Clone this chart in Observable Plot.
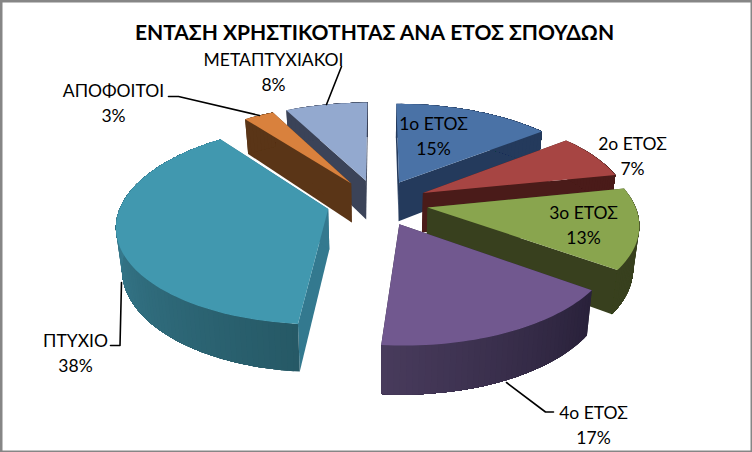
<!DOCTYPE html>
<html lang="el">
<head>
<meta charset="utf-8">
<style>html,body{margin:0;padding:0;background:#fff;overflow:hidden}svg{display:block}</style>
<script src="https://cdn.jsdelivr.net/npm/d3@7"></script>
<script src="https://cdn.jsdelivr.net/npm/@observablehq/plot@0.6"></script>
</head>
<body>
<div id="chart"></div>
<script>
const chartTitle = "ΕΝΤΑΣΗ ΧΡΗΣΤΙΚΟΤΗΤΑΣ ΑΝΑ ΕΤΟΣ ΣΠΟΥΔΩΝ";
const categories = ["1ο ΕΤΟΣ","2ο ΕΤΟΣ","3ο ΕΤΟΣ","4ο ΕΤΟΣ","ΠΤΥΧΙΟ","ΑΠΟΦΟΙΤΟΙ","ΜΕΤΑΠΤΥΧΙΑΚΟΙ"];
const shares = [14.5, 7.4, 13.2, 16.5, 38.4, 2.8, 7.6];

const topColors  = ["#4a72a6","#a74543","#89a54e","#71588f","#4198af","#d9813d","#93a9cf"];
const wallColors = ["#243a5c","#4a1b19","#38401e","#2b2339","#33798f","#5a3517","#3b4358"];
const arcFrom    = ["#243a5c","#4a1b19","#38401e","#483b5c","#4392aa","#5a3517","#3b4358"];
const arcTo      = ["#243a5c","#4a1b19","#38401e","#29213a","#265966","#5a3517","#3b4358"];

// pixel layout of the 752x452 frame
const W = 752, H = 452, CX = 377, CY = 202, A = 206.5, B = 96;
const K = 0.15, EXPLODE_U = 0.246, EXPLODE_V = 0.24, DEPTH = 0.417, BOTTOM_X = 0.977;
const ux = p => (p - CX) / A, uy = p => (CY - p) / B;

// perspective projection of the disc plane
function proj(u, v, bottom) {
  const s = 1 / (1 + K * v);
  return {x: u * s * (bottom ? BOTTOM_X : 1), y: v * s - (bottom ? DEPTH * s : 0)};
}

const total = d3.sum(shares);
const slices = [];
let acc = 0;
shares.forEach((v, i) => {
  const a0 = acc / total * 2 * Math.PI;
  acc += v;
  const a1 = acc / total * 2 * Math.PI;
  const m = (a0 + a1) / 2;
  slices.push({i, a0, a1, ou: EXPLODE_U * Math.sin(m), ov: EXPLODE_V * Math.cos(m)});
});

function rim(s, a, bottom) { return proj(s.ou + Math.sin(a), s.ov + Math.cos(a), bottom); }
function apex(s, bottom) { return proj(s.ou, s.ov, bottom); }
const poly = (pts, fill) => Plot.line(pts.concat(pts[0]), {x: "x", y: "y", fill, stroke: "none", curve: "linear"});

const marks = [];
// painter's order: farthest slice first
[...slices].sort((a, b) => b.ov - a.ov).forEach(s => {
  const n = Math.max(8, Math.round((s.a1 - s.a0) * 40));
  const angle = k => s.a0 + (s.a1 - s.a0) * k / n;
  marks.push(poly([apex(s), rim(s, s.a0), rim(s, s.a0, true), apex(s, true)], wallColors[s.i]));
  marks.push(poly([apex(s), rim(s, s.a1), rim(s, s.a1, true), apex(s, true)], wallColors[s.i]));
  const shade = d3.interpolateRgb(arcTo[s.i], arcFrom[s.i]);
  // each band reaches to the far end of the wall, so later bands overpaint it without seams
  for (let k = 0; k < n; k++) {
    const upper = [], lower = [];
    for (let j = k; j <= n; j++) { upper.push(rim(s, angle(j))); lower.unshift(rim(s, angle(j), true)); }
    marks.push(poly(upper.concat(lower), shade(k / (n - 1))));
  }
  const top = [apex(s)];
  for (let k = 0; k <= n; k++) top.push(rim(s, angle(k)));
  marks.push(poly(top, topColors[s.i]));
});

// leader lines
const leaders = [
  [[506,382],[545,411.5],[553,411.5]],
  [[121,282],[119.5,345],[110,345]],
  [[168,96],[178,96],[259,115]],
  [[341,66],[326,104]]
];
leaders.forEach(l => marks.push(Plot.line(l.map(([x, y]) => ({x: ux(x), y: uy(y)})), {x: "x", y: "y", stroke: "#000", strokeWidth: 1.6})));

// labels
const labelPos = [[433,134],[632,154],[583,223],[593,423],[75,351],[113,101],[273,70]];
const labels = categories.map((c, i) => ({x: ux(labelPos[i][0]), y: uy(labelPos[i][1]), text: c + "\n" + Math.round(shares[i]) + "%"}));
marks.push(Plot.text(labels, {x: "x", y: "y", text: "text", fontSize: 17.5, lineHeight: 1.46, fill: "#000", fontFamily: "Lato, 'Noto Sans', sans-serif", textAnchor: "middle", lineAnchor: "middle"}));
marks.push(Plot.text([chartTitle], {x: ux(374), y: uy(32.5), text: d => d, fontSize: 21, fontWeight: "bold", fill: "#000", fontFamily: "Lato, 'Noto Sans', sans-serif", textAnchor: "middle", lineAnchor: "middle"}));
marks.push(Plot.frame({stroke: "#868686", strokeWidth: 4}));

const plot = Plot.plot({
  width: W, height: H, margin: 0,
  x: {domain: [ux(0), ux(W)], range: [0, W], axis: null},
  y: {domain: [uy(H), uy(0)], range: [H, 0], axis: null},
  style: {background: "#fff"},
  marks
});
document.getElementById("chart").append(plot);
</script>
</body>
</html>
